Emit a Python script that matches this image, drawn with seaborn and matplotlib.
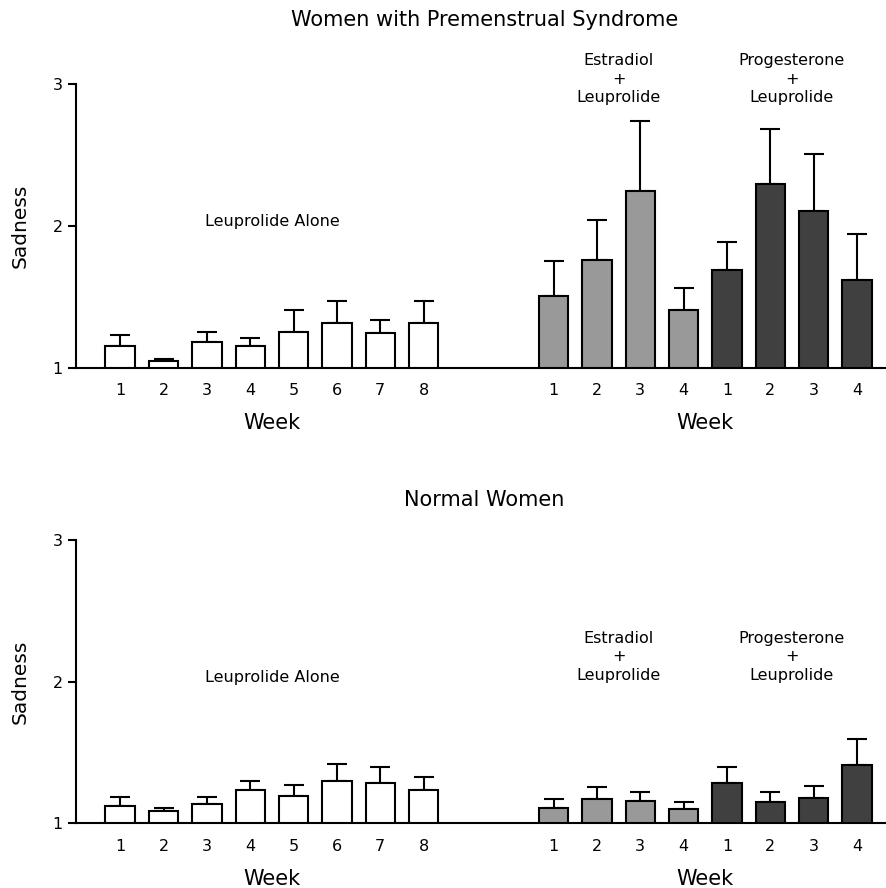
import matplotlib
matplotlib.use("Agg")
import matplotlib.pyplot as plt
import matplotlib.transforms as mtransforms
import numpy as np
import pandas as pd
import seaborn as sns

# bar positions on the x axis (gap between the two blocks)
positions = [0, 1, 2, 3, 4, 5, 6, 7, 10, 11, 12, 13, 14, 15, 16, 17]
week_labels = ["1", "2", "3", "4", "5", "6", "7", "8",
               "1", "2", "3", "4", "1", "2", "3", "4"]
groups = ["Leuprolide"] * 8 + ["Estradiol"] * 4 + ["Progesterone"] * 4

# Women with premenstrual syndrome: mean and upper error bar end
pms_mean = [1.155, 1.047, 1.179, 1.155, 1.254, 1.315, 1.247, 1.315,
            1.505, 1.756, 2.244, 1.406, 1.690, 2.296, 2.106, 1.618]
pms_top = [1.228, 1.061, 1.254, 1.207, 1.404, 1.470, 1.338, 1.470,
           1.754, 2.042, 2.739, 1.561, 1.887, 2.681, 2.507, 1.942]

# Normal women
normal_mean = [1.122, 1.087, 1.138, 1.233, 1.190, 1.301, 1.284, 1.237,
               1.106, 1.174, 1.155, 1.101, 1.282, 1.150, 1.176, 1.409]
normal_top = [1.186, 1.110, 1.186, 1.299, 1.270, 1.416, 1.397, 1.324,
              1.171, 1.254, 1.221, 1.148, 1.395, 1.219, 1.265, 1.597]

palette = {"Leuprolide": "#ffffff", "Estradiol": "#999999", "Progesterone": "#404040"}

sns.set_style("ticks")
plt.rcParams["font.family"] = ["DejaVu Sans"]
plt.rcParams.update({
    "text.color": "black",
    "axes.labelcolor": "black",
    "axes.edgecolor": "black",
    "xtick.color": "black",
    "ytick.color": "black",
})

fig = plt.figure(figsize=(8.86, 8.88), dpi=100)
ax_top = fig.add_axes([0.0858, 0.5859, 0.9142, 0.3198])
ax_bot = fig.add_axes([0.0858, 0.0729, 0.9142, 0.3190])


def draw_panel(ax, means, tops, title, title_y, combo_y):
    df = pd.DataFrame({"pos": positions, "value": means, "group": groups})
    sns.barplot(data=df, x="pos", y="value", hue="group", palette=palette,
                native_scale=True, dodge=False, width=0.68, legend=False,
                edgecolor="black", linewidth=1.5, ax=ax, zorder=3)
    # bars start at the baseline 1
    for patch in ax.patches:
        h = patch.get_height()
        patch.set_y(1)
        patch.set_height(h - 1)
    err = np.array(tops) - np.array(means)
    ax.errorbar(positions, means, yerr=[np.zeros_like(err), err], fmt="none",
                ecolor="black", elinewidth=1.5, capsize=7.5, capthick=1.5, zorder=2)

    ax.set_xlim(-1.02, 17.67)
    ax.set_ylim(1, 3)
    ax.set_yticks([1, 2, 3])
    ax.set_yticklabels(["1", "2", "3"])
    ax.set_xticks(positions)
    ax.set_xticklabels(week_labels)
    ax.tick_params(axis="x", length=0, pad=11, labelsize=11.5)
    ax.tick_params(axis="y", length=5.5, width=1.5, pad=4, labelsize=11.5)
    for side in ["top", "right"]:
        ax.spines[side].set_visible(False)
    ax.spines["left"].set_linewidth(1.5)
    ax.spines["bottom"].set_linewidth(1.5)
    ax.set_xlabel("")
    ax.set_ylabel("Sadness", fontsize=14.5)
    ax.yaxis.set_label_coords(-0.057, 0.5)

    trans = mtransforms.blended_transform_factory(ax.transData, ax.transAxes)
    ax.text(3.5, -0.195, "Week", transform=trans, ha="center", va="center", fontsize=15)
    ax.text(13.5, -0.195, "Week", transform=trans, ha="center", va="center", fontsize=15)
    ax.text(8.4, title_y, title, transform=trans, ha="center", va="center", fontsize=15)

    ax.text(3.5, 2.03, "Leuprolide Alone", ha="center", va="center", fontsize=11.5)
    ax.text(11.5, combo_y, "Estradiol\n+\nLeuprolide", ha="center", va="center",
            fontsize=11.5, linespacing=1.3)
    ax.text(15.5, combo_y, "Progesterone\n+\nLeuprolide", ha="center", va="center",
            fontsize=11.5, linespacing=1.3)


draw_panel(ax_top, pms_mean, pms_top, "Women with Premenstrual Syndrome", 1.224, 3.031)
draw_panel(ax_bot, normal_mean, normal_top, "Normal Women", 1.141, 2.176)

fig.savefig("out.png", dpi=100)
